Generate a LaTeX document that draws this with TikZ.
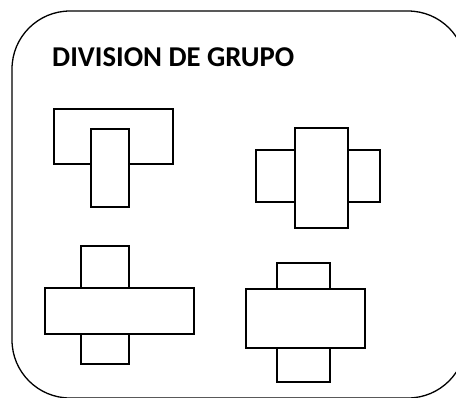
\documentclass[tikz,border=0pt]{standalone}
\usepackage{fontspec}
\setmainfont{Carlito}

\begin{document}
\begin{tikzpicture}[x=1pt, y=-1pt, line join=miter,
    table/.style={draw=black, line width=1.3pt, fill=white}]
    \def\rad{58} % corner radius of the frame
    \useasboundingbox (0,0) rectangle (456,397);

    % Frame with rounded corners (runs past the right and bottom edges)
    \draw[line width=1.3pt, rounded corners=\rad pt] (12,11) rectangle (466,398);

    % Title
    \node[anchor=base west, inner sep=0pt, font=\bfseries\fontsize{28.7}{34}\selectfont]
        (title) at (52,66.5) {DIVISION DE GRUPO};

    % Group 1: T shape
    \draw[table] (54,109) rectangle (173,164);
    \draw[table] (91,129) rectangle (129,207);

    % Group 2: cross, tall table on top
    \draw[table] (256,150) rectangle (380,202);
    \draw[table] (295,128) rectangle (348,228);

    % Group 3 and 4: wide table over a narrow one
    \foreach \x/\y/\X/\Y/\u/\v/\U/\V in {81/246/129/364/45/288/194/334,
                                         277/263/330/382/246/289/365/348} {
        \draw[table] (\x,\y) rectangle (\X,\Y);
        \draw[table] (\u,\v) rectangle (\U,\V);
    }
\end{tikzpicture}
\end{document}
